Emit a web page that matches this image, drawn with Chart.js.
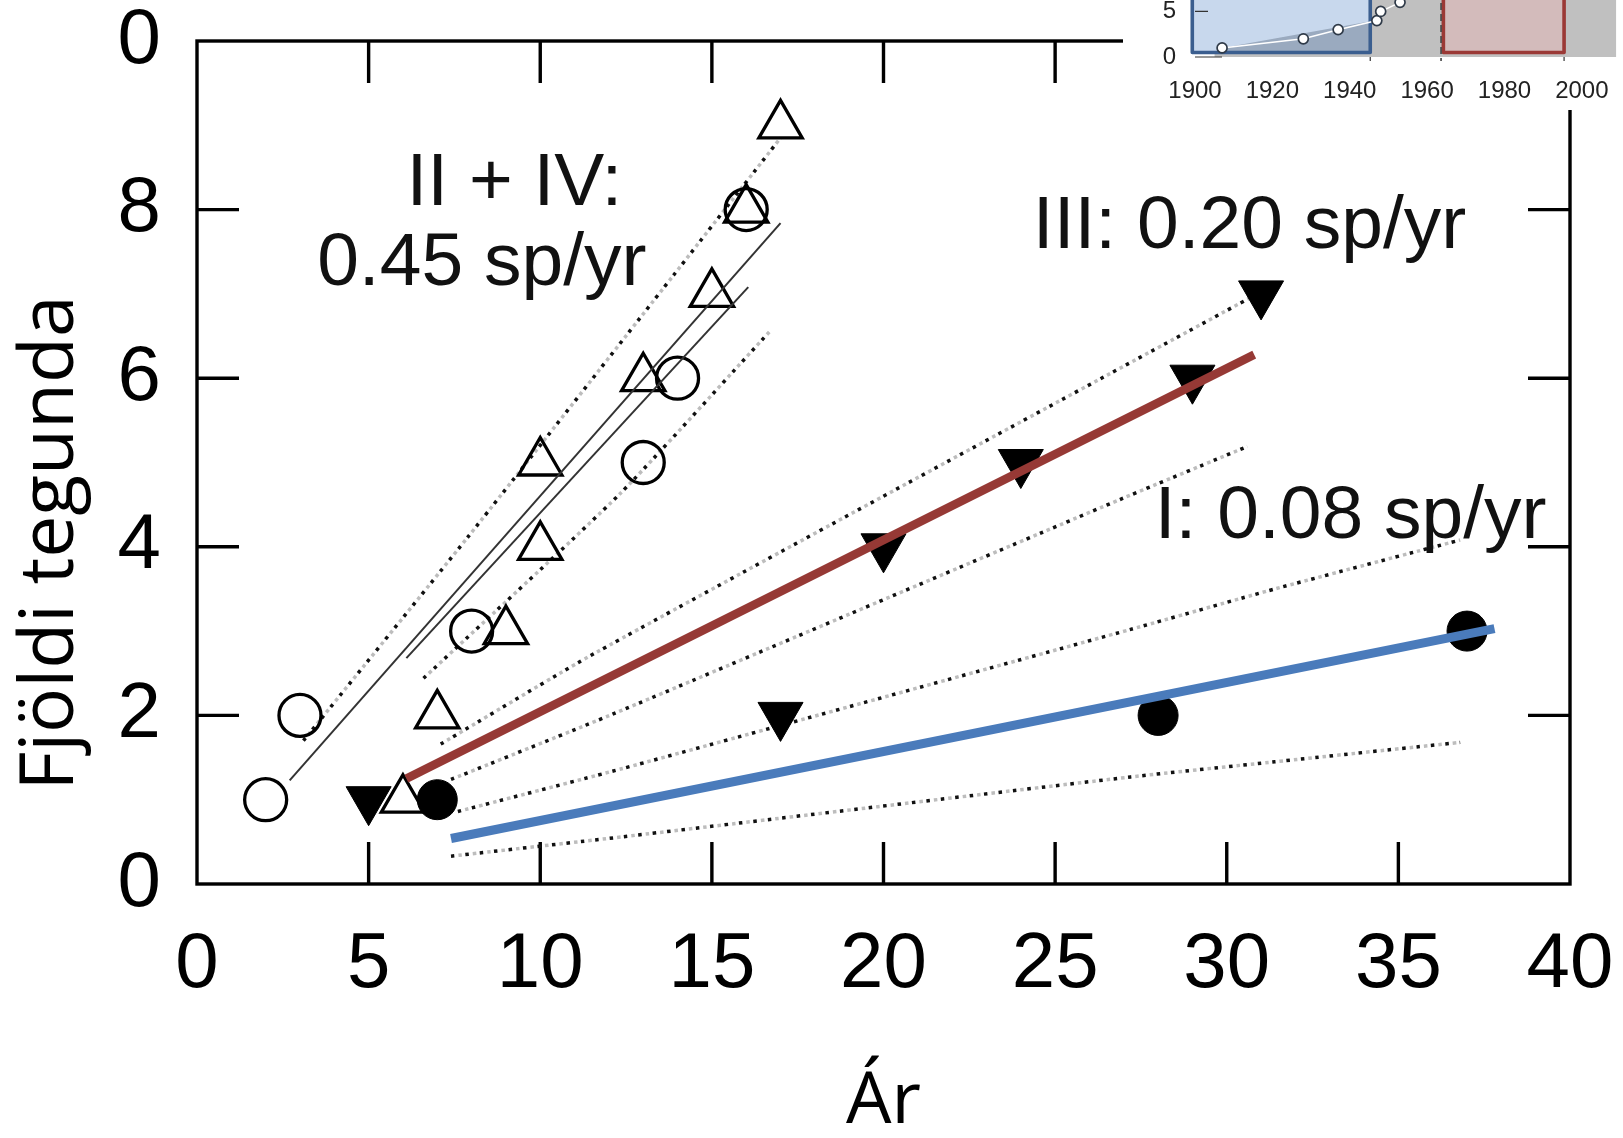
<!DOCTYPE html>
<html>
<head>
<meta charset="utf-8">
<script src="https://cdn.jsdelivr.net/npm/chart.js@4.4.1/dist/chart.umd.min.js"></script>
<style>
    html, body { margin: 0; padding: 0; background: #fff; }
    #wrap { position: relative; width: 1623px; height: 1138px; overflow: hidden; }
    #mainBox { position: absolute; left: 0; top: 0; }
    #insetBox { position: absolute; left: 1123px; top: 0; width: 500px; height: 110px; background: #fff; overflow: hidden; }
    #inset { position: absolute; left: 0; top: -8px; }
</style>
</head>
<body>
<div id="wrap">
    <div id="mainBox"><canvas id="main" width="1623" height="1138"></canvas></div>
    <div id="insetBox"><canvas id="inset" width="500" height="118"></canvas></div>
</div>
<script>
// Ásar
var xTicks = [0, 5, 10, 15, 20, 25, 30, 35, 40];
var yTicks = [0, 2, 4, 6, 8, 10];
var yTickLabels = ['0', '2', '4', '6', '8', '0'];

// Mæligildi: fjöldi tegunda eftir árum
var grpIx = [7, 28, 37];
var grpIy = [1, 2, 3];
var grpIIx = [2, 3, 8, 13, 14, 16];
var grpIIy = [1, 2, 3, 5, 6, 8];
var grpIIIx = [5, 17, 20, 24, 29, 31];
var grpIIIy = [1, 2, 4, 5, 6, 7];
var grpIVx = [6, 7, 9, 10, 10, 13, 15, 16, 17];
var grpIVy = [1, 2, 3, 4, 5, 6, 7, 8, 9];

// Aðhvarfslínur
var fitIx = [7.4, 37.8];
var fitIy = [0.54, 3.03];
var fitIIIx = [6.1, 30.8];
var fitIIIy = [1.25, 6.28];
var fitIIx = [2.7, 17.0];
var fitIIy = [1.23, 7.84];
var fitIVx = [6.1, 16.06];
var fitIVy = [2.68, 7.08];

// Öryggisbil (punktalínur)
var bandIupX = [7.6, 12.4, 27.2, 31.4, 36.8];
var bandIupY = [0.86, 1.37, 3.02, 3.5, 4.08];
var bandIloX = [7.4, 12.4, 27.2, 31.4, 36.8];
var bandIloY = [0.33, 0.56, 1.27, 1.45, 1.68];
var bandIIIupX = [7.1, 11.6, 30.8];
var bandIIIupY = [1.66, 2.74, 6.98];
var bandIIIloX = [7.4, 12.2, 27.0, 30.6];
var bandIIIloY = [1.24, 2.03, 4.58, 5.19];
var bandIIupX = [3.1, 7.9, 13.9, 17.0];
var bandIIupY = [1.7, 4.12, 7.23, 8.85];
var bandIIloX = [6.6, 12.3, 16.7];
var bandIIloY = [2.44, 4.62, 6.56];

// Textar á myndinni
var noteText = ['II + IV:', '0.45 sp/yr', 'III: 0.20 sp/yr', 'I: 0.08 sp/yr'];
var noteX = [6.1, 3.5, 24.35, 27.9];
var noteY = [8.05, 7.1, 7.54, 4.1];

// Innfelld mynd
var insetYears = [1900, 1920, 1940, 1960, 1980, 2000];
var insetYTicks = [0, 5];
var insetPtX = [1907, 1928, 1937, 1947, 1948, 1953];
var insetPtY = [1, 2, 3, 4, 5, 6];
var insetAreaX = [1905, 1907, 1945, 1945.3, 2012];
var insetAreaY = [0.45, 1.0, 3.9, 7, 7];
var blueSpan = [1899.3, 1945.3];
var redSpan = [1964.2, 1995.4];
var dashYear = 1963.6;

function pts(xs, ys) {
    return xs.map(function(x, i) { return {x: x, y: ys[i]}; });
}

function lineSet(xs, ys, color, width, order, dash, dashOffset) {
    return {
        data: pts(xs, ys),
        showLine: true,
        borderColor: color,
        borderWidth: width,
        borderDash: dash || [],
        borderDashOffset: dashOffset || 0,
        borderCapStyle: 'butt',
        pointRadius: 0,
        tension: dash ? 0.2 : 0,
        fill: false,
        order: order
    };
}

// punktalína: svartir og gráir punktar til skiptis
function dotted(xs, ys) {
    return [
        lineSet(xs, ys, '#111', 3.5, 11, [3.5, 11]),
        lineSet(xs, ys, '#bdbdbd', 3.5, 12, [3.5, 11], 7)
    ];
}

function zeroPad(s) {
    s.paddingLeft = 0; s.paddingRight = 0; s.paddingTop = 0; s.paddingBottom = 0;
}

var tickFont = {family: '"Liberation Sans", Arial, sans-serif', size: 78, lineHeight: 1};

// Rammi og tikk inn á við á öllum hliðum, textar og y-ás titill
var framePlugin = {
    id: 'frame',
    beforeDatasetsDraw: function(chart) {
        var ctx = chart.ctx, a = chart.chartArea;
        var sx = chart.scales.x, sy = chart.scales.y;
        ctx.save();
        ctx.strokeStyle = '#000';
        ctx.lineWidth = 3.4;
        ctx.strokeRect(a.left, a.top, a.right - a.left, a.bottom - a.top);
        ctx.beginPath();
        xTicks.slice(1, -1).forEach(function(v) {
            var px = sx.getPixelForValue(v);
            ctx.moveTo(px, a.bottom); ctx.lineTo(px, a.bottom - 42);
            ctx.moveTo(px, a.top); ctx.lineTo(px, a.top + 42);
        });
        yTicks.slice(1, -1).forEach(function(v) {
            var py = sy.getPixelForValue(v);
            ctx.moveTo(a.left, py); ctx.lineTo(a.left + 42, py);
            ctx.moveTo(a.right, py); ctx.lineTo(a.right - 42, py);
        });
        ctx.stroke();
        ctx.restore();
    },
    afterDraw: function(chart) {
        var ctx = chart.ctx;
        var sx = chart.scales.x, sy = chart.scales.y;
        ctx.save();
        ctx.fillStyle = '#111';
        ctx.font = '75px "Liberation Sans", Arial, sans-serif';
        ctx.textAlign = 'left';
        ctx.textBaseline = 'alphabetic';
        noteText.forEach(function(t, i) {
            ctx.fillText(t, sx.getPixelForValue(noteX[i]), sy.getPixelForValue(noteY[i]));
        });
        // y-ás titill
        ctx.fillStyle = '#000';
        ctx.font = '75px "Open Sans", sans-serif';
        ctx.translate(73, 543);
        ctx.rotate(-Math.PI / 2);
        ctx.textAlign = 'center';
        ctx.fillText('Fjöldi tegunda', 0, 0);
        ctx.restore();
    }
};

function createMainChart() {
    var canvas = document.getElementById('main');
    var datasets = [
        lineSet(fitIx, fitIy, '#4a7bbb', 9, 1),
        lineSet(fitIIIx, fitIIIy, '#963935', 8.5, 2),
        lineSet(fitIIx, fitIIy, '#333', 2, 3),
        lineSet(fitIVx, fitIVy, '#333', 2, 3),
        {
            data: pts(grpIIx, grpIIy), pointStyle: 'circle', pointRadius: 21,
            pointBorderWidth: 3.3, pointBorderColor: '#000', pointBackgroundColor: 'rgba(0,0,0,0)', order: 5
        },
        {
            data: pts(grpIVx, grpIVy), pointStyle: 'triangle', pointRadius: 25,
            pointBorderWidth: 3.3, pointBorderColor: '#000', pointBackgroundColor: 'rgba(0,0,0,0)', order: 5
        },
        {
            data: pts(grpIIIx, grpIIIy), pointStyle: 'triangle', pointRadius: 26, pointRotation: 180,
            pointBorderWidth: 1, pointBorderColor: '#000', pointBackgroundColor: '#000', order: 5
        },
        {
            data: pts(grpIx, grpIy), pointStyle: 'circle', pointRadius: 20,
            pointBorderWidth: 1, pointBorderColor: '#000', pointBackgroundColor: '#000', order: 5
        }
    ].concat(
        dotted(bandIupX, bandIupY),
        dotted(bandIloX, bandIloY),
        dotted(bandIIIupX, bandIIIupY),
        dotted(bandIIIloX, bandIIIloY),
        dotted(bandIIupX, bandIIupY),
        dotted(bandIIloX, bandIIloY)
    );

    new Chart(canvas, {
        type: 'scatter',
        data: {datasets: datasets},
        options: {
            responsive: false,
            animation: false,
            layout: {padding: {top: 41, right: 53, left: 0, bottom: 0}},
            plugins: {legend: {display: false}, tooltip: {enabled: false}},
            scales: {
                x: {
                    type: 'linear', min: 0, max: 40,
                    grid: {display: false}, border: {display: false},
                    afterBuildTicks: function(s) { s.ticks = xTicks.map(function(v) { return {value: v}; }); },
                    afterFit: function(s) { s.height = 254; zeroPad(s); },
                    ticks: {color: '#000', font: tickFont, padding: 34, maxRotation: 0, autoSkip: false},
                    title: {
                        display: true, text: 'Ár', color: '#000',
                        font: {family: '"Open Sans", sans-serif', size: 72, lineHeight: 1},
                        padding: {top: 0, bottom: 0}
                    }
                },
                y: {
                    type: 'linear', min: 0, max: 10,
                    grid: {display: false}, border: {display: false},
                    afterBuildTicks: function(s) { s.ticks = yTicks.map(function(v) { return {value: v}; }); },
                    afterFit: function(s) { s.width = 197; zeroPad(s); },
                    ticks: {
                        color: '#000', font: tickFont, padding: 28, autoSkip: false,
                        callback: function(v) { return yTickLabels[yTicks.indexOf(v)]; }
                    }
                }
            }
        },
        plugins: [framePlugin]
    });
}

// Kassar og strikalína í innfelldu myndinni
var insetPlugin = {
    id: 'insetBoxes',
    afterDatasetDraw: function(chart, args) {
        if (args.index !== 0) return;
        var ctx = chart.ctx, a = chart.chartArea;
        var sx = chart.scales.x, sy = chart.scales.y;
        var yb = sy.getPixelForValue(0.5), yt = sy.getPixelForValue(9);
        ctx.save();
        ctx.lineJoin = 'round';
        ctx.lineWidth = 3.6;
        var bx0 = sx.getPixelForValue(blueSpan[0]), bx1 = sx.getPixelForValue(blueSpan[1]);
        ctx.fillStyle = 'rgba(50,110,190,0.27)';
        ctx.fillRect(bx0, yt, bx1 - bx0, yb - yt);
        ctx.strokeStyle = '#3b5e8f';
        ctx.strokeRect(bx0, yt, bx1 - bx0, yb - yt);
        var rx0 = sx.getPixelForValue(redSpan[0]), rx1 = sx.getPixelForValue(redSpan[1]);
        ctx.fillStyle = '#d3bbbb';
        ctx.fillRect(rx0, yt, rx1 - rx0, yb - yt);
        ctx.strokeStyle = '#9b3936';
        ctx.strokeRect(rx0, yt, rx1 - rx0, yb - yt);
        // strikalína
        var dx = sx.getPixelForValue(dashYear);
        ctx.setLineDash([7, 4]);
        ctx.lineWidth = 1.6;
        ctx.strokeStyle = '#444';
        ctx.beginPath();
        ctx.moveTo(dx, 0); ctx.lineTo(dx, a.bottom + 4);
        ctx.stroke();
        ctx.setLineDash([]);
        // lítil tikk
        ctx.lineWidth = 1.2;
        ctx.strokeStyle = '#333';
        ctx.beginPath();
        var y5 = sy.getPixelForValue(5);
        ctx.moveTo(a.left, y5); ctx.lineTo(a.left + 13, y5);
        [blueSpan[1], redSpan[1]].forEach(function(v) {
            var px = sx.getPixelForValue(v);
            ctx.moveTo(px, a.bottom); ctx.lineTo(px, a.bottom + 4);
        });
        ctx.moveTo(a.left, a.bottom); ctx.lineTo(a.left + 27, a.bottom);
        ctx.stroke();
        ctx.restore();
    }
};

function createInsetChart() {
    var canvas = document.getElementById('inset');
    var insetFont = {family: '"Liberation Sans", Arial, sans-serif', size: 24, lineHeight: 1};
    new Chart(canvas, {
        type: 'scatter',
        data: {
            datasets: [
                {
                    data: pts(insetAreaX, insetAreaY), showLine: true, fill: 'origin',
                    backgroundColor: '#c0c0c0', borderWidth: 0, borderColor: 'rgba(0,0,0,0)',
                    pointRadius: 0, order: 2
                },
                {
                    data: pts(insetPtX, insetPtY), showLine: true, borderColor: '#fff', borderWidth: 1.5,
                    pointRadius: 5, pointBorderWidth: 1.7, pointBorderColor: '#2f3a48',
                    pointBackgroundColor: '#fff', clip: false, order: 1
                }
            ]
        },
        options: {
            responsive: false,
            animation: false,
            layout: {padding: 0},
            plugins: {legend: {display: false}, tooltip: {enabled: false}},
            scales: {
                x: {
                    type: 'linear', min: 1900, max: 2008.9,
                    grid: {display: false}, border: {display: false},
                    afterBuildTicks: function(s) { s.ticks = insetYears.map(function(v) { return {value: v}; }); },
                    afterFit: function(s) { s.height = 53; zeroPad(s); },
                    ticks: {
                        color: '#222', font: insetFont, padding: 14, maxRotation: 0, autoSkip: false,
                        callback: function(v) { return String(v); }
                    }
                },
                y: {
                    type: 'linear', min: 0, max: 6.4,
                    grid: {display: false}, border: {display: false},
                    afterBuildTicks: function(s) { s.ticks = insetYTicks.map(function(v) { return {value: v}; }); },
                    afterFit: function(s) { s.width = 72; zeroPad(s); },
                    ticks: {color: '#222', font: insetFont, padding: 11, autoSkip: false}
                }
            }
        },
        plugins: [insetPlugin]
    });
}

document.addEventListener('DOMContentLoaded', function() {
    createMainChart();
    createInsetChart();
});
</script>
</body>
</html>
